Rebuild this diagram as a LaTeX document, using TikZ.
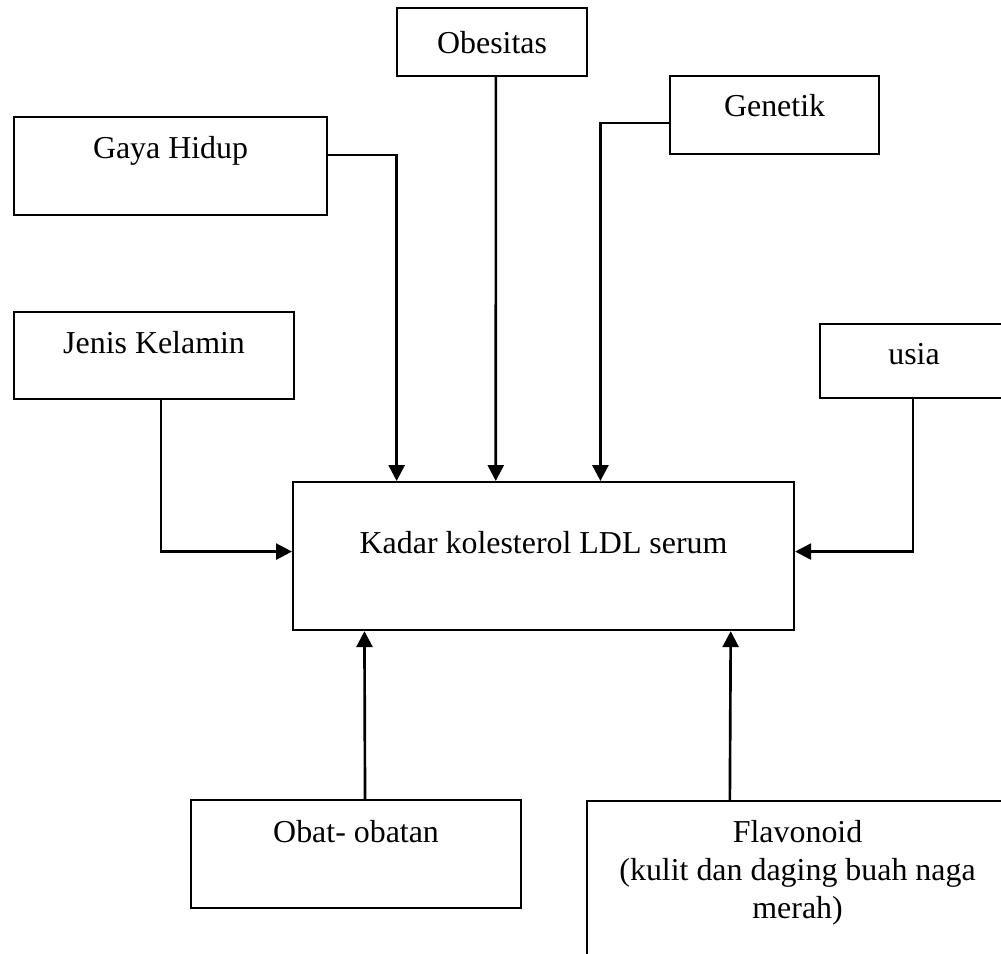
\documentclass[tikz,border=0pt]{standalone}
\usepackage{fontspec}
\setmainfont{Liberation Serif}
\usetikzlibrary{positioning,calc,arrows.meta}

\begin{document}
\begin{tikzpicture}[
	x=0.376pt, y=-0.376pt,
	font=\fontsize{12}{14.3}\selectfont,
	kotak/.style n args={3}{draw, line width=0.8pt, rectangle, anchor=north west,
		inner sep=0pt, align=center, minimum width=#1*0.376pt,
		text height=#3*0.376pt, text depth=(#2-#3)*0.376pt},
	panah/.style={-{Triangle[length=6pt,width=6pt]}, line width=1pt}
	]
	\useasboundingbox (0,0) rectangle (1001,953);
	\clip (0,0) rectangle (1001,953);
	% faktor-faktor
	\node[kotak={190}{68}{45}] (obesitas) at (396,7) {Obesitas};
	\node[kotak={313}{98}{41}] (gaya) at (13,116) {Gaya Hidup};
	\node[kotak={209}{78}{40}] (genetik) at (669,75) {Genetik};
	\node[kotak={280}{87}{41}] (jenis) at (13,311) {Jenis Kelamin};
	\node[kotak={188}{74}{40}] (usia) at (819,323) {usia};
	\node[kotak={501}{148}{71}] (kadar) at (292,481) {Kadar kolesterol LDL serum};
	\node[kotak={330}{108}{42}] (obat) at (190,799) {Obat- obatan};
	\node[kotak={421}{200}{117}] (flavonoid) at (586,800)
		{Flavonoid\\(kulit dan daging buah naga\\merah)};
	% panah
	\draw[panah] ($(gaya.north east)!0.39!(gaya.south east)$)
		-| ($(kadar.north west)!0.208!(kadar.north east)$);
	\draw[panah] ($(obesitas.south west)!0.52!(obesitas.south east)$)
		-- ($(kadar.north west)!0.405!(kadar.north east)$);
	\draw[panah] ($(genetik.north west)!0.6!(genetik.south west)$)
		-| ($(kadar.north west)!0.613!(kadar.north east)$);
	\draw[panah] ($(jenis.south west)!0.525!(jenis.south east)$)
		|- ($(kadar.north west)!0.47!(kadar.south west)$);
	\draw[panah] ($(usia.south west)!0.495!(usia.south east)$)
		|- ($(kadar.north east)!0.47!(kadar.south east)$);
	\draw[panah] ($(obat.north west)!0.527!(obat.north east)$)
		-- ($(kadar.south west)!0.144!(kadar.south east)$);
	\draw[panah] ($(flavonoid.north west)!0.34!(flavonoid.north east)$)
		-- ($(kadar.south west)!0.872!(kadar.south east)$);
\end{tikzpicture}
\end{document}
